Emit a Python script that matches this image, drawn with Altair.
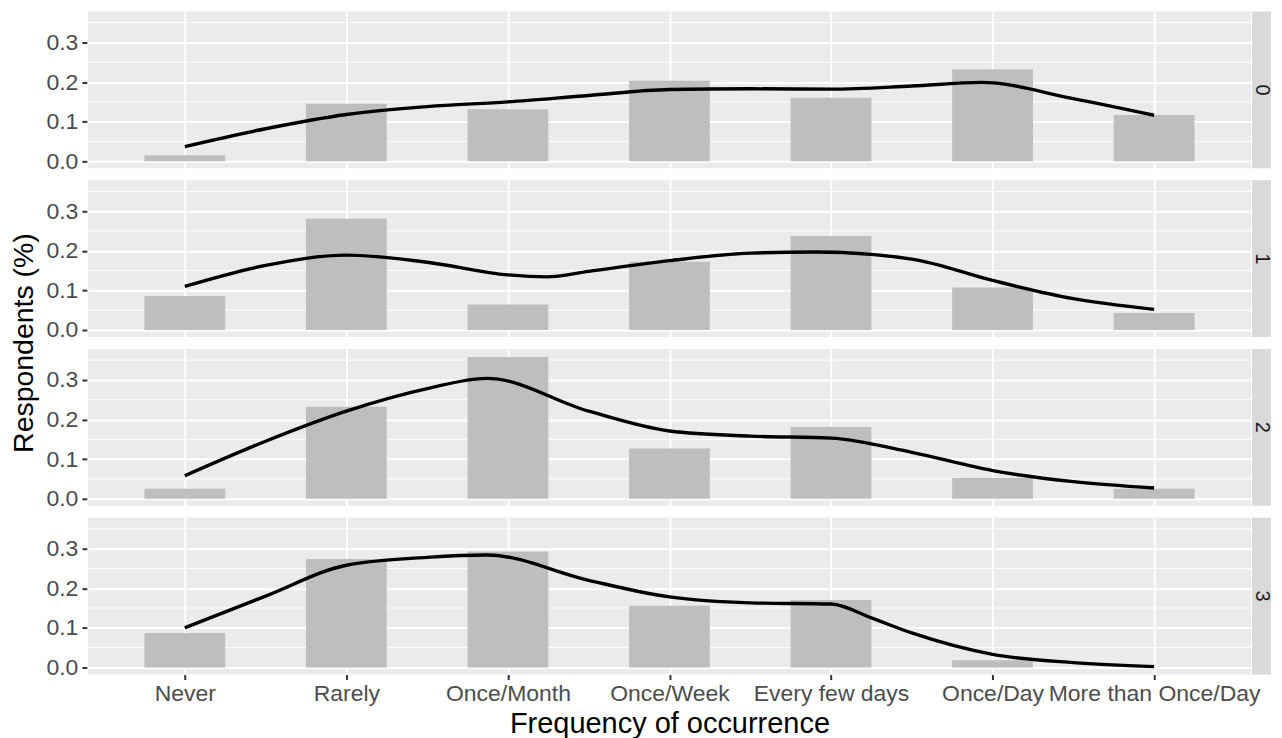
import json
import altair as alt
import pandas as pd

categories = ["Never", "Rarely", "Once/Month", "Once/Week", "Every few days",
              "Once/Day", "More than Once/Day"]
panels = ["0", "1", "2", "3"]

# bar heights (share of respondents) per panel, in category order
bars_0 = [0.015, 0.145, 0.131, 0.203, 0.160, 0.232, 0.117]
bars_1 = [0.086, 0.281, 0.064, 0.172, 0.237, 0.107, 0.043]
bars_2 = [0.025, 0.232, 0.358, 0.127, 0.181, 0.052, 0.025]
bars_3 = [0.087, 0.274, 0.293, 0.156, 0.170, 0.018, 0.000]

# smoothed curve (x in category units, 1 = Never)
smooth_x_0 = [1, 1.5, 2, 2.5, 3, 3.5, 4, 4.5, 5, 5.5, 5.93, 6.5, 7]
smooth_y_0 = [0.037, 0.082, 0.118, 0.138, 0.150, 0.166, 0.181, 0.183, 0.182, 0.190, 0.199, 0.158, 0.116]
smooth_x_1 = [1, 1.5, 2, 2.5, 3, 3.24, 3.5, 4, 4.5, 4.9, 5.5, 6, 6.5, 7]
smooth_y_1 = [0.110, 0.163, 0.189, 0.171, 0.139, 0.134, 0.148, 0.175, 0.194, 0.197, 0.179, 0.125, 0.079, 0.052]
smooth_x_2 = [1, 1.5, 2, 2.5, 2.87, 3.5, 4, 4.5, 5, 5.5, 6, 6.5, 7]
smooth_y_2 = [0.058, 0.145, 0.221, 0.278, 0.304, 0.221, 0.171, 0.158, 0.153, 0.117, 0.071, 0.043, 0.027]
smooth_x_3 = [1, 1.5, 2, 2.5, 2.87, 3.5, 4, 4.5, 5, 5.25, 5.5, 6, 6.5, 7]
smooth_y_3 = [0.100, 0.180, 0.258, 0.278, 0.284, 0.220, 0.178, 0.163, 0.160, 0.125, 0.087, 0.033, 0.012, 0.002]

major_breaks = [0.0, 0.1, 0.2, 0.3]
minor_breaks = [0.05, 0.15, 0.25, 0.35]
x_breaks = [1, 2, 3, 4, 5, 6, 7]

W, H = 1165, 157
FONT = "Liberation Sans"

bars_all = [bars_0, bars_1, bars_2, bars_3]
smooth_all = [(smooth_x_0, smooth_y_0), (smooth_x_1, smooth_y_1),
              (smooth_x_2, smooth_y_2), (smooth_x_3, smooth_y_3)]

rows = []
for p, vals, (sx, sy) in zip(panels, bars_all, smooth_all):
    for i, v in enumerate(vals):
        rows.append({"panel": p, "kind": "bar", "pos": i + 1, "value": v})
    for x, y in zip(sx, sy):
        rows.append({"panel": p, "kind": "line", "pos": x, "value": y})
    for m in minor_breaks:
        rows.append({"panel": p, "kind": "minor", "pos": None, "value": m})
    rows.append({"panel": p, "kind": "strip", "pos": None, "value": None})
df = pd.DataFrame(rows)

xscale = alt.Scale(domain=[0.4, 7.6], nice=False, zero=False)
yscale = alt.Scale(domain=[-0.018, 0.378], nice=False, zero=False)
label_expr = json.dumps(categories) + "[datum.value - 1]"

xaxis = alt.Axis(values=x_breaks, labelExpr=label_expr, title="Frequency of occurrence",
                 labelOverlap=False, labelFlush=False, labelLimit=0,
                 labelPadding=3, titlePadding=4)
yaxis = alt.Axis(values=major_breaks, format=".1f", title=None, labelPadding=4)

base = alt.Chart()

minor = base.transform_filter(alt.datum.kind == "minor").mark_rule(
    color="white", strokeWidth=1
).encode(y=alt.Y("value:Q", scale=yscale, axis=yaxis))

bars = base.transform_filter(alt.datum.kind == "bar").transform_calculate(
    x1="datum.pos - 0.25", x2="datum.pos + 0.25"
).mark_bar(color="#BEBEBE").encode(
    x=alt.X("x1:Q", scale=xscale, axis=xaxis),
    x2="x2:Q",
    y=alt.Y("value:Q", scale=yscale, axis=yaxis),
    y2=alt.datum(0),
)

line = base.transform_filter(alt.datum.kind == "line").mark_line(
    color="black", strokeWidth=3.4, interpolate="monotone"
).encode(
    x=alt.X("pos:Q", scale=xscale, axis=xaxis),
    y=alt.Y("value:Q", scale=yscale, axis=yaxis),
    order="pos:Q",
)

strip = base.transform_filter(alt.datum.kind == "strip").mark_rect(color="#D9D9D9").encode(
    x=alt.value(W + 1), x2=alt.value(W + 20), y=alt.value(0), y2=alt.value(H)
)
strip_text = base.transform_filter(alt.datum.kind == "strip").mark_text(
    angle=90, fontSize=20, font=FONT, color="#1A1A1A"
).encode(x=alt.value(W + 11), y=alt.value(H / 2), text="panel:N")

layered = alt.layer(minor, bars, line, strip, strip_text).properties(width=W, height=H)

chart = layered.facet(
    row=alt.Row("panel:N", header=alt.Header(
        labels=False, title="Respondents (%)", titleOrient="left", titleFontSize=28.5,
        titleFont=FONT, titleColor="black", titleFontWeight="normal", titlePadding=-3)),
    data=df,
    spacing=12,
).properties(
    padding={"left": 2, "right": 2, "top": 3, "bottom": 0}
).configure_view(
    fill="#EBEBEB", stroke=None
).configure_axis(
    domain=False, grid=True, gridColor="white", gridWidth=2,
    tickColor="#333333", tickSize=5, tickWidth=2,
    labelColor="#4D4D4D", labelFontSize=23, labelFont=FONT,
    titleFont=FONT, titleFontSize=29, titleFontWeight="normal", titleColor="black",
)

chart.save("out.html", embed_options={"renderer": "svg", "actions": False})
